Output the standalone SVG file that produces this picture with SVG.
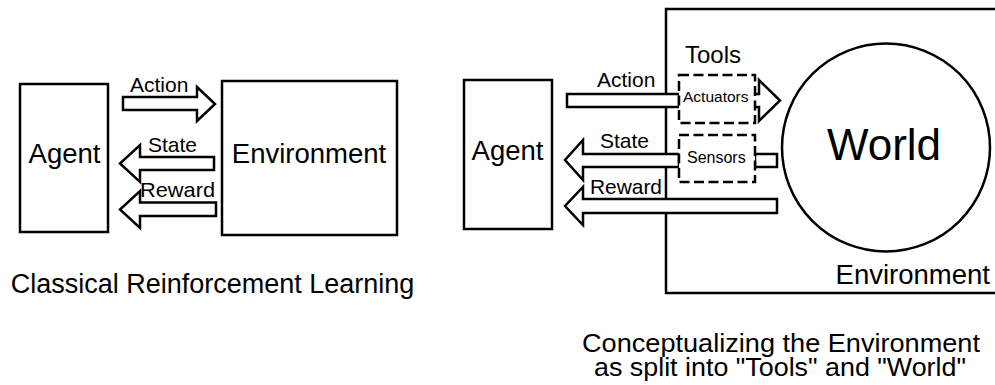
<svg xmlns="http://www.w3.org/2000/svg" width="995" height="385" viewBox="0 0 995 385">
<style>
.box{fill:#fff;stroke:#000;stroke-width:2.5}
.open{fill:none;stroke:#000;stroke-width:2.5}
.dash{fill:#fff;stroke:#000;stroke-width:2.5;stroke-dasharray:10 4.5}
.arr{fill:#fff;stroke:#000;stroke-width:2.5;stroke-linejoin:miter}
text{font-family:"Liberation Sans",Arial,sans-serif;fill:#000}
.big{font-size:27.5px}
.lbl{font-size:21px}
.cap{font-size:27px}
</style>
<rect width="995" height="385" fill="#fff"/>
<!-- Left diagram -->
<g id="agent-left"><rect class="box" x="20" y="84" width="88" height="148"/><text class="big" x="64.5" y="163" text-anchor="middle">Agent</text></g>
<g id="environment-left"><rect class="box" x="222" y="81" width="175" height="154"/><text class="big" x="309" y="163" text-anchor="middle">Environment</text></g>
<g id="connectors-left">
<polygon class="arr" points="123,97 197,97 197,87 215,104 197,121 197,110 123,110"/>
<text class="lbl" x="130" y="92">Action</text>
<polygon class="arr" points="214,157 140,157 140,145 120,163.5 140,182 140,170 214,170"/>
<text class="lbl" x="148" y="152">State</text>
<polygon class="arr" points="216,202.5 140,202.5 140,191 120,209.5 140,228 140,216 216,216"/>
<text class="lbl" x="140" y="197" textLength="75" lengthAdjust="spacingAndGlyphs">Reward</text>
</g>
<text id="caption-left" class="cap" x="212.5" y="293" text-anchor="middle">Classical Reinforcement Learning</text>
<!-- Right diagram -->
<g id="environment-right"><rect class="open" x="666" y="9" width="345" height="284"/><text class="big" x="990" y="284" text-anchor="end">Environment</text></g>
<g id="world"><circle class="box" cx="886" cy="147.5" r="104"/><text x="884" y="160" text-anchor="middle" font-size="44">World</text></g>
<g id="agent-right"><rect class="box" x="464" y="80" width="88" height="149"/><text class="big" x="507.5" y="160" text-anchor="middle">Agent</text></g>
<g id="connectors-right">
<polygon class="arr" points="567,94 679,94 679,107 567,107"/>
<path class="arr" d="M755,94 H759 V80 L780,100.5 L759,121 V107 H755"/>
<text class="lbl" x="597" y="87">Action</text>
<polygon class="arr" points="679,154 583,154 583,140 565,160 583,180 583,167 679,167"/>
<rect class="arr" x="755" y="154" width="22" height="13"/>
<text class="lbl" x="600" y="148">State</text>
<polygon class="arr" points="777,199 583,199 583,187 565,206 583,225 583,213 777,213"/>
<text class="lbl" x="590" y="194" textLength="72" lengthAdjust="spacingAndGlyphs">Reward</text>
</g>
<g id="tools"><text x="685" y="63" font-size="24">Tools</text></g>
<g id="actuators"><rect class="dash" x="679" y="75" width="76" height="48"/><text x="683" y="102" font-size="15.5">Actuators</text></g>
<g id="sensors"><rect class="dash" x="679" y="135" width="76" height="47"/><text x="687" y="163" font-size="16">Sensors</text></g>
<text id="caption-right" class="cap" x="781" y="352" text-anchor="middle" textLength="398" lengthAdjust="spacingAndGlyphs" style="font-size:25.5px">Conceptualizing the Environment</text>
<text id="caption-right-2" class="cap" x="780" y="376" text-anchor="middle" textLength="372" lengthAdjust="spacingAndGlyphs" style="font-size:25.5px">as split into "Tools" and "World"</text>
</svg>
